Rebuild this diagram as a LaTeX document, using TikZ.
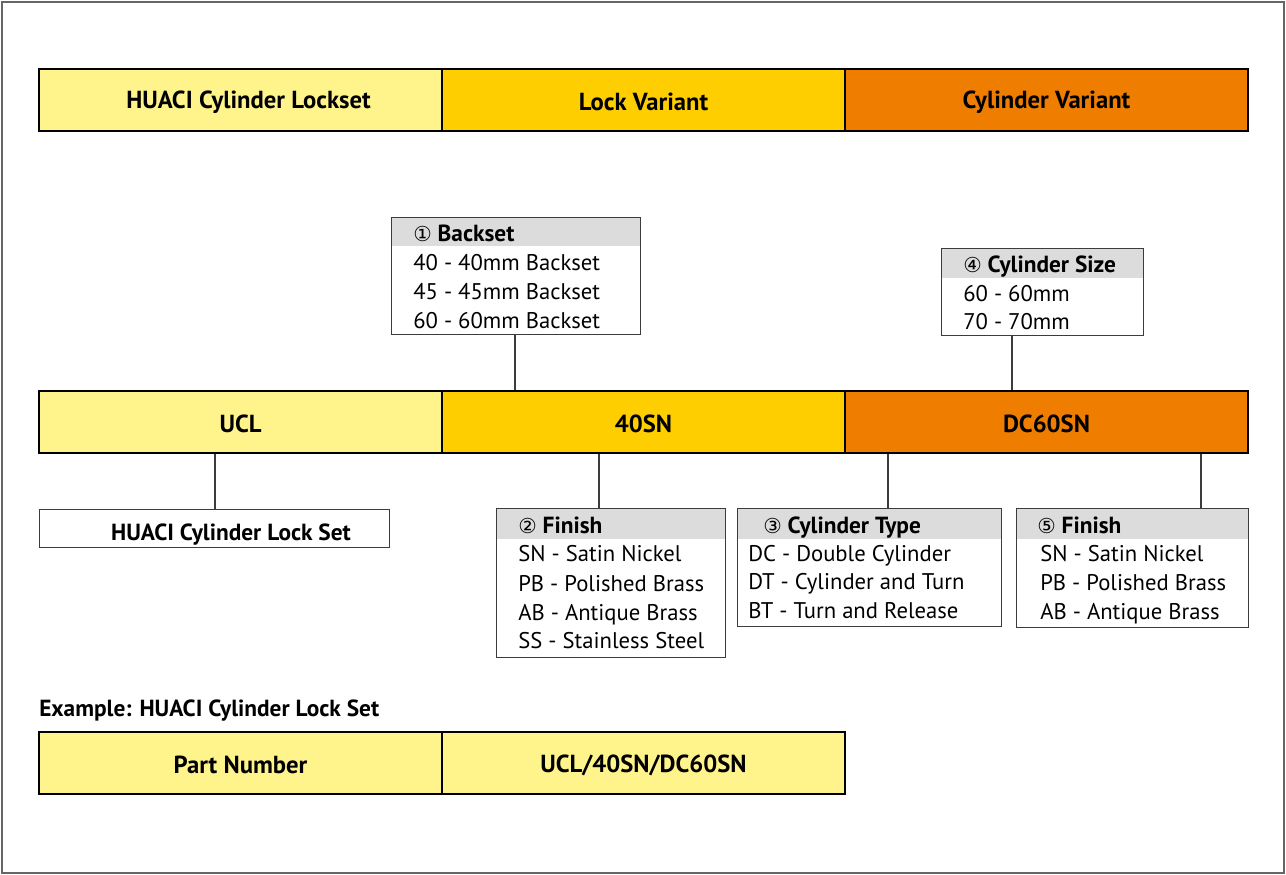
\documentclass[tikz,border=0pt]{standalone}
\usepackage{fontspec}
\setmainfont{PT Sans}
\newfontfamily\symfont{DejaVu Sans}
\definecolor{lyellow}{RGB}{255,244,140}
\definecolor{gold}{RGB}{254,206,0}
\definecolor{orng}{RGB}{239,125,0}
\definecolor{hdrgray}{RGB}{220,220,220}
\definecolor{boxline}{RGB}{60,60,60}
\newcommand\circnum[1]{{\symfont\mdseries\fontsize{15.5}{15.5}\selectfont #1}}
\begin{document}
\begin{tikzpicture}[x=0.75pt,y=-0.75pt,
  cell/.style={draw=black,line width=1.6pt,minimum width=403*0.75pt,minimum height=62*0.75pt,inner sep=0pt,font=\fontsize{18.5}{18.5}\selectfont\bfseries},
  celltxt/.style={inner sep=0pt,anchor=center,yshift=-1.5pt,font=\fontsize{18.5}{18.5}\selectfont\bfseries},
  listbox/.style={draw=boxline,line width=0.8pt,inner sep=0pt,anchor=north west},
  hdr/.style={fill=hdrgray},
  hdrtxt/.style={anchor=mid west,inner sep=0pt,yshift=-3.8pt,font=\fontsize{17.5}{17.5}\selectfont\bfseries},
  rowtxt/.style={anchor=mid west,inner sep=0pt,yshift=-3.8pt,font=\fontsize{17}{17}\selectfont},
  conn/.style={draw=boxline,line width=0.8pt}]
\useasboundingbox (0,0) rectangle (1286,875);
\draw[draw=gray!80!black,line width=1.1pt] (2,2) rectangle (1284,873);
% top bar
\node[cell,fill=lyellow] (t1) at (240.5,100) {};
\node[cell,fill=gold] (t2) at (643.5,100) {};
\node[cell,fill=orng] (t3) at (1046.5,100) {};
\node[celltxt] at ([xshift=6pt]t1.center) {HUACI Cylinder Lockset};
\node[celltxt] at (t2.center) {Lock Variant};
\node[celltxt] at (t3.center) {Cylinder Variant};
% middle bar
\node[cell,fill=lyellow] (ucl) at (240.5,422) {};
\node[cell,fill=gold] (sn) at (643.5,422) {};
\node[cell,fill=orng] (dc) at (1046.5,422) {};
\node[celltxt] at (ucl.center) {UCL};
\node[celltxt] at (sn.center) {40SN};
\node[celltxt] at (dc.center) {DC60SN};
% backset box
\fill[hdr] (391,217) rectangle (640,246);
\node[listbox,minimum width=249*0.75pt,minimum height=117*0.75pt] (bs) at (391,217) {};
\node[hdrtxt] (bsh) at (413,233) {\circnum{①} Backset};
\node[rowtxt] (bs1) at (413,262) {40 - 40mm Backset};
\node[rowtxt] (bs2) at (413,291) {45 - 45mm Backset};
\node[rowtxt] (bs3) at (413,320) {60 - 60mm Backset};
% cylinder size box
\fill[hdr] (941,248) rectangle (1143,278);
\node[listbox,minimum width=202*0.75pt,minimum height=87*0.75pt] (cs) at (941,248) {};
\node[hdrtxt] (csh) at (963,264) {\circnum{④} Cylinder Size};
\node[rowtxt] (cs1) at (963,293) {60 - 60mm};
\node[rowtxt] (cs2) at (963,321) {70 - 70mm};
% HUACI box
\node[listbox,minimum width=350*0.75pt,minimum height=38*0.75pt] (hb) at (39,509) {};
\node[hdrtxt,anchor=center,yshift=-1pt] (hbt) at (231,528) {HUACI Cylinder Lock Set};
% finish box
\fill[hdr] (496,508) rectangle (725,539);
\node[listbox,minimum width=229*0.75pt,minimum height=149*0.75pt] (fb) at (496,508) {};
\node[hdrtxt] (fbh) at (518,525) {\circnum{②} Finish};
\node[rowtxt] (fb1) at (518,553) {SN - Satin Nickel};
\node[rowtxt] (fb2) at (518,583) {PB - Polished Brass};
\node[rowtxt] (fb3) at (518,612) {AB - Antique Brass};
\node[rowtxt] (fb4) at (518,640) {SS - Stainless Steel};
% cylinder type box
\fill[hdr] (737,508) rectangle (1001,539);
\node[listbox,minimum width=264*0.75pt,minimum height=118*0.75pt] (ct) at (737,508) {};
\node[hdrtxt] (cth) at (763,525) {\circnum{③} Cylinder Type};
\node[rowtxt] (ct1) at (748,553) {DC - Double Cylinder};
\node[rowtxt] (ct2) at (748,581) {DT - Cylinder and Turn};
\node[rowtxt] (ct3) at (748,610) {BT - Turn and Release};
% finish 5 box
\fill[hdr] (1016,508) rectangle (1248,539);
\node[listbox,minimum width=232*0.75pt,minimum height=119*0.75pt] (f5) at (1016,508) {};
\node[hdrtxt] (f5h) at (1037,525) {\circnum{⑤} Finish};
\node[rowtxt] (f51) at (1040,553) {SN - Satin Nickel};
\node[rowtxt] (f52) at (1040,582) {PB - Polished Brass};
\node[rowtxt] (f53) at (1040,611) {AB - Antique Brass};
% connectors
\coordinate (x1) at (515,0);
\coordinate (x4) at (1012,0);
\coordinate (x2) at (599,0);
\coordinate (x3) at (888,0);
\coordinate (x5) at (1201,0);
\coordinate (x0) at (215,0);
\draw[conn] (bs.south -| x1) -- (sn.north -| x1);
\draw[conn] (cs.south -| x4) -- (dc.north -| x4);
\draw[conn] (ucl.south -| x0) -- (hb.north -| x0);
\draw[conn] (sn.south -| x2) -- (fb.north -| x2);
\draw[conn] (dc.south -| x3) -- (ct.north -| x3);
\draw[conn] (dc.south -| x5) -- (f5.north -| x5);
% example
\node[hdrtxt] (ex) at (39,708) {Example: HUACI Cylinder Lock Set};
\node[cell,fill=lyellow] (pn) at (240.5,763) {};
\node[cell,fill=lyellow] (pv) at (643.5,763) {};
\node[celltxt] at (pn.center) {Part Number};
\node[celltxt] at (pv.center) {UCL/40SN/DC60SN};
\end{tikzpicture}
\end{document}
